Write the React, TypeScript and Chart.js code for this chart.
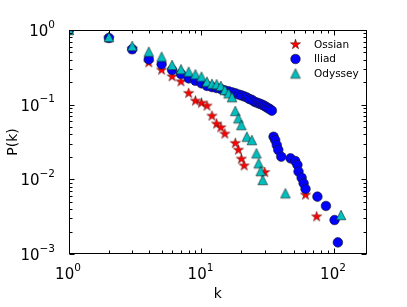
import React, { useEffect, useRef } from 'react';
import { Chart, registerables } from 'chart.js';
Chart.register(...registerables);

// ---- data ----
const ossianK = [1, 2, 3, 4, 5, 6, 7, 8, 9, 10, 11, 12, 13, 14, 15, 18, 19, 20, 21, 30, 61, 74];
const ossianP = [1, 0.781, 0.557, 0.365, 0.291, 0.237, 0.203, 0.142, 0.112, 0.105, 0.096, 0.0705, 0.0551, 0.0492, 0.0405, 0.0304, 0.0247, 0.0187, 0.0152, 0.0124, 0.00617, 0.00316];

const iliadK = [1, 2, 3, 4, 5, 6, 7, 8, 9, 10, 11, 12, 13, 14, 15, 16, 17, 18, 19, 20, 21, 22, 23, 24, 25, 26, 27, 28, 29, 30, 31, 32, 33, 34,
  35, 36, 37, 38, 40, 47, 51, 53, 54, 57, 59, 61, 75, 87, 101, 107];
const iliadP = [1, 0.781, 0.552, 0.405, 0.347, 0.291, 0.257, 0.225, 0.209, 0.193, 0.178, 0.172, 0.167, 0.162, 0.155, 0.151, 0.146, 0.142, 0.137, 0.133,
  0.129, 0.125, 0.119, 0.116, 0.11, 0.107, 0.104, 0.102, 0.099, 0.096, 0.0922, 0.0895, 0.0867, 0.083,
  0.0372, 0.0336, 0.0288, 0.0247, 0.0201, 0.0191, 0.0176, 0.0156, 0.0127, 0.0105, 0.00885, 0.00743, 0.00586, 0.0044, 0.00285, 0.00143];

const odysseyK = [1, 2, 3, 4, 5, 6, 7, 8, 9, 10, 11, 12, 13, 14, 15, 16, 17, 18, 19, 20, 22, 24, 26, 27, 28, 29, 43, 113];
const odysseyP = [1, 0.806, 0.611, 0.512, 0.439, 0.34, 0.298, 0.276, 0.255, 0.237, 0.203, 0.19, 0.188, 0.178, 0.157, 0.142, 0.126,
  0.0823, 0.0657, 0.0534, 0.0372, 0.0336, 0.0223, 0.0164, 0.0129, 0.0098, 0.0065, 0.00333];

const seriesNames = ['Ossian', 'Iliad', 'Odyssey'];
const xTicks = [1, 10, 100];
const xTickLabels = ['10^0', '10^1', '10^2'];
const yTicks = [0.001, 0.01, 0.1, 1];
const yTickLabels = ['10^\u22123', '10^\u22122', '10^\u22121', '10^0'];
const xRange = [1, 176];
const yRange = [0.001, 1];
const xTitle = 'k';
const yTitle = 'P(k)';

const FONT = '"DejaVu Sans", sans-serif';
const RED = '#ff0000';
const BLUE = '#0000ff';
const CYAN = '#00bfbf';
const EDGE = '#1a1a1a';

function makeStar(fill: string, R: number) {
  const c = document.createElement('canvas');
  const s = Math.ceil(R * 2 + 4);
  c.width = s; c.height = s;
  const g = c.getContext('2d')!;
  const cx = s / 2, cy = s / 2, r = R * 0.381966;
  g.beginPath();
  for (let i = 0; i < 10; i++) {
    const rad = i % 2 === 0 ? R : r;
    const a = -Math.PI / 2 + (i * Math.PI) / 5;
    const px = cx + rad * Math.cos(a), py = cy + rad * Math.sin(a);
    if (i === 0) g.moveTo(px, py); else g.lineTo(px, py);
  }
  g.closePath();
  g.fillStyle = fill; g.fill();
  g.lineWidth = 0.45; g.strokeStyle = '#300'; g.stroke();
  return c;
}

function makeTriangle(fill: string, h: number) {
  const c = document.createElement('canvas');
  const s = Math.ceil(h * 2 + 4);
  c.width = s; c.height = s;
  const g = c.getContext('2d')!;
  const cx = s / 2, cy = s / 2;
  g.beginPath();
  g.moveTo(cx, cy - h);
  g.lineTo(cx - h, cy + h);
  g.lineTo(cx + h, cy + h);
  g.closePath();
  g.fillStyle = fill; g.fill();
  g.lineWidth = 0.6; g.strokeStyle = EDGE; g.stroke();
  return c;
}

function splitPow(s: string) {
  const [b, e] = s.split('^');
  return { b, e };
}

export default function App() {
  const ref = useRef<HTMLCanvasElement>(null);

  useEffect(() => {
    const star = makeStar(RED, 5.4);
    const tri = makeTriangle(CYAN, 4.8);

    const mplPlugin = {
      id: 'mplAxes',
      afterDatasetsDraw(chart: any) {
        const { ctx, chartArea: a } = chart;
        const xs = chart.scales.x, ys = chart.scales.y;
        const L = Math.round(a.left) + 0.5, R = Math.round(a.right) - 0.5;
        const T = Math.round(a.top) + 0.5, B = Math.round(a.bottom) - 0.5;
        ctx.save();
        ctx.strokeStyle = '#000';
        ctx.lineWidth = 1;
        ctx.strokeRect(L, T, R - L, B - T);

        const minorVals = (lo: number, hi: number) => {
          const out: number[] = [];
          for (let p = Math.floor(Math.log10(lo)); p <= Math.ceil(Math.log10(hi)); p++) {
            for (let m = 2; m <= 9; m++) {
              const v = m * Math.pow(10, p);
              if (v > lo && v < hi) out.push(v);
            }
          }
          return out;
        };
        const MAJ = 5, MIN = 3;
        ctx.beginPath();
        const xt = (v: number, len: number) => {
          const px = Math.round(xs.getPixelForValue(v)) + 0.5;
          ctx.moveTo(px, B); ctx.lineTo(px, B - len);
          ctx.moveTo(px, T); ctx.lineTo(px, T + len);
        };
        const yt = (v: number, len: number) => {
          const py = Math.round(ys.getPixelForValue(v)) + 0.5;
          ctx.moveTo(L, py); ctx.lineTo(L + len, py);
          ctx.moveTo(R, py); ctx.lineTo(R - len, py);
        };
        xTicks.forEach(v => xt(v, MAJ));
        minorVals(xRange[0], xRange[1]).forEach(v => xt(v, MIN));
        yTicks.forEach(v => yt(v, MAJ));
        minorVals(yRange[0], yRange[1]).forEach(v => yt(v, MIN));
        ctx.stroke();

        // tick labels with superscripts
        ctx.fillStyle = '#000';
        ctx.textBaseline = 'alphabetic';
        ctx.textAlign = 'left';
        const bigF = `15px ${FONT}`, smallF = `10.5px ${FONT}`;
        xTicks.forEach((v, i) => {
          const { b, e } = splitPow(xTickLabels[i]);
          ctx.font = bigF; const wb = ctx.measureText(b).width;
          ctx.font = smallF; const we = ctx.measureText(e).width;
          const px = xs.getPixelForValue(v);
          const x0 = px - (wb + we) / 2 - 1;
          const base = a.bottom + 25;
          ctx.font = bigF; ctx.fillText(b, x0, base);
          ctx.font = smallF; ctx.fillText(e, x0 + wb, base - 8.5);
        });
        yTicks.forEach((v, i) => {
          const { b, e } = splitPow(yTickLabels[i]);
          ctx.font = bigF; const wb = ctx.measureText(b).width;
          ctx.font = smallF; const we = ctx.measureText(e).width;
          const py = ys.getPixelForValue(v);
          const xr = a.left - 14;
          const base = py + 6;
          ctx.font = bigF; ctx.fillText(b, xr - we - wb, base);
          ctx.font = smallF; ctx.fillText(e, xr - we, base - 8.5);
        });

        // legend inside the axes, top right
        const lx = 295.5, tx = 314;
        const rows = [44.5, 59, 73.5];
        ctx.font = `10.5px ${FONT}`;
        ctx.textBaseline = 'middle';
        seriesNames.forEach((name, i) => {
          const y = rows[i];
          if (i === 0) ctx.drawImage(star, lx - star.width / 2, y - star.height / 2);
          else if (i === 1) {
            ctx.beginPath(); ctx.arc(lx, y, 4.8, 0, Math.PI * 2);
            ctx.fillStyle = BLUE; ctx.fill();
            ctx.lineWidth = 0.6; ctx.strokeStyle = EDGE; ctx.stroke();
          } else ctx.drawImage(tri, lx - tri.width / 2, y - tri.height / 2);
          ctx.fillStyle = '#000';
          ctx.fillText(name, tx, y + 0.5);
        });
        ctx.restore();
      },
    };

    const toPts = (ks: number[], ps: number[]) => ks.map((k, i) => ({ x: k, y: ps[i] }));

    const chart = new Chart(ref.current!, {
      type: 'scatter',
      data: {
        datasets: [
          {
            label: seriesNames[0], data: toPts(ossianK, ossianP), pointStyle: star as any, pointRadius: 5,
            backgroundColor: RED, borderColor: '#000', showLine: false, order: 3, clip: 0 as any,
          },
          {
            label: seriesNames[1], data: toPts(iliadK, iliadP), pointStyle: 'circle', pointRadius: 4.8,
            backgroundColor: BLUE, borderColor: EDGE, borderWidth: 0.6, showLine: false, order: 2, clip: 0 as any,
          },
          {
            label: seriesNames[2], data: toPts(odysseyK, odysseyP), pointStyle: tri as any, pointRadius: 5,
            backgroundColor: CYAN, borderColor: '#000', showLine: false, order: 1, clip: 0 as any,
          },
        ],
      },
      options: {
        responsive: false,
        animation: false,
        events: [],
        layout: { padding: { left: 0, right: 40.5, top: 30, bottom: 0 } },
        plugins: { legend: { display: false }, tooltip: { enabled: false } },
        scales: {
          x: {
            type: 'logarithmic', position: 'bottom', min: xRange[0], max: xRange[1],
            grid: { display: false }, border: { display: false }, ticks: { display: false },
            title: { display: true, text: xTitle, color: '#000', font: { family: FONT, size: 14 }, padding: { top: 0, bottom: 4 } },
            afterFit: (s: any) => { s.height = 53; },
          },
          y: {
            type: 'logarithmic', position: 'left', min: yRange[0], max: yRange[1],
            grid: { display: false }, border: { display: false }, ticks: { display: false },
            title: { display: true, text: yTitle, color: '#000', font: { family: FONT, size: 14 }, padding: { top: 5, bottom: 0 } },
            afterFit: (s: any) => { s.width = 69; },
          },
        },
      } as any,
      plugins: [mplPlugin],
    });
    return () => chart.destroy();
  }, []);

  return (
    <div style={{ position: 'fixed', left: 0, top: 0, width: 407, height: 307, background: '#fff' }}>
      <canvas ref={ref} width={407} height={307} style={{ display: 'block' }} />
    </div>
  );
}
